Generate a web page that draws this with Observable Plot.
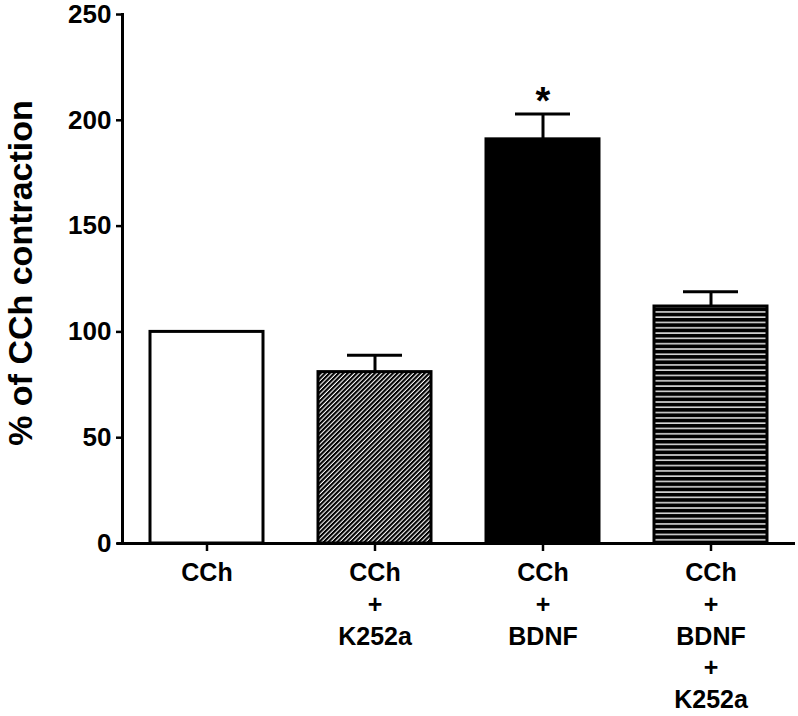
<!DOCTYPE html>
<html>
<head>
<meta charset="utf-8">
<script src="https://cdn.jsdelivr.net/npm/d3@7"></script>
<script src="https://cdn.jsdelivr.net/npm/@observablehq/plot@0.6"></script>
<style>
  html, body { margin: 0; padding: 0; background: #fff; }
  svg { font-family: "Liberation Sans", Arial, sans-serif; }
</style>
</head>
<body>
<div id="chart"></div>
<script>
// ---- data ----
const categories = ["CCh", "CCh+K252a", "CCh+BDNF", "CCh+BDNF+K252a"];
const tickLabels = ["CCh", "CCh\n+\nK252a", "CCh\n+\nBDNF", "CCh\n+\nBDNF\n+\nK252a"];
const means = [100, 81, 191, 112];
const sems = [0, 8, 12, 7];
const significant = [false, false, true, false];
const yTicks = [0, 50, 100, 150, 200, 250];
const yLabel = "% of CCh contraction";

// ---- styles (separate from data) ----
const fills = ["white", "url(#diagHatch)", "black", "url(#horizHatch)"];

const data = categories.map((c, i) => ({cat: c, mean: means[i], sem: sems[i], fill: fills[i], sig: significant[i]}));
const labelOf = Object.fromEntries(categories.map((c, i) => [c, tickLabels[i]]));

const chart = Plot.plot({
  width: 798,
  height: 716,
  marginLeft: 122,
  marginRight: 3,
  marginTop: 14,
  marginBottom: 173,
  style: {fontFamily: "'Liberation Sans', Arial, sans-serif", fontWeight: "bold", color: "black", background: "white"},
  x: {domain: categories, paddingInner: 0.33, paddingOuter: 0.165, label: null},
  y: {domain: [0, 250], ticks: yTicks, label: null},
  color: {type: "identity"},
  marks: [
    Plot.barY(data, {x: "cat", y: "mean", fill: "fill", stroke: "black", strokeWidth: 3}),
    Plot.ruleX(data.filter(d => d.sem > 0), {x: "cat", y1: "mean", y2: d => d.mean + d.sem, stroke: "black", strokeWidth: 3}),
    Plot.tickY(data.filter(d => d.sem > 0), {x: "cat", y: d => d.mean + d.sem, stroke: "black", strokeWidth: 3, insetLeft: 29, insetRight: 29}),
    Plot.text(data.filter(d => d.sig), {x: "cat", y: d => d.mean + d.sem, text: () => "*", fontSize: 38, fontWeight: "bold", lineAnchor: "bottom", dy: 0, fill: "black"}),
    Plot.ruleY([0], {stroke: "black", strokeWidth: 3, insetLeft: -5}),
    Plot.frame({anchor: "left", stroke: "black", strokeWidth: 3}),
    Plot.axisY({ticks: yTicks, tickSize: 6, tickPadding: 5, fontSize: 26, fontWeight: "bold", strokeWidth: 2.5, label: null}),
    Plot.text([yLabel], {frameAnchor: "left", textAnchor: "middle", rotate: -90, dx: -101, dy: -6, fontSize: 34, fontWeight: "bold", lineAnchor: "middle", fill: "black"}),
    Plot.axisX({tickFormat: d => labelOf[d], tickSize: 8, tickPadding: 7, fontSize: 25, fontWeight: "bold", lineHeight: 1.27, strokeWidth: 2.5, label: null})
  ]
});

// pattern definitions
const ns = "http://www.w3.org/2000/svg";
const defs = document.createElementNS(ns, "defs");
defs.innerHTML = `
  <pattern id="diagHatch" patternUnits="userSpaceOnUse" width="3.2" height="3.2" patternTransform="rotate(45)">
    <rect width="3.2" height="3.2" fill="white"/>
    <rect width="2.1" height="3.2" fill="black"/>
  </pattern>
  <pattern id="horizHatch" patternUnits="userSpaceOnUse" width="10" height="5.3">
    <rect width="10" height="5.3" fill="#d8d8d8"/>
    <rect width="10" height="3.7" fill="black"/>
  </pattern>`;
chart.insertBefore(defs, chart.firstChild);
// enforce tick label font sizes
chart.querySelectorAll("g[aria-label='y-axis tick label']").forEach(g => { g.style.fontSize = "26px"; g.style.fontWeight = "bold"; });
chart.querySelectorAll("g[aria-label='x-axis tick label']").forEach(g => { g.style.fontSize = "25px"; g.style.fontWeight = "bold"; });
document.getElementById("chart").appendChild(chart);
</script>
</body>
</html>
